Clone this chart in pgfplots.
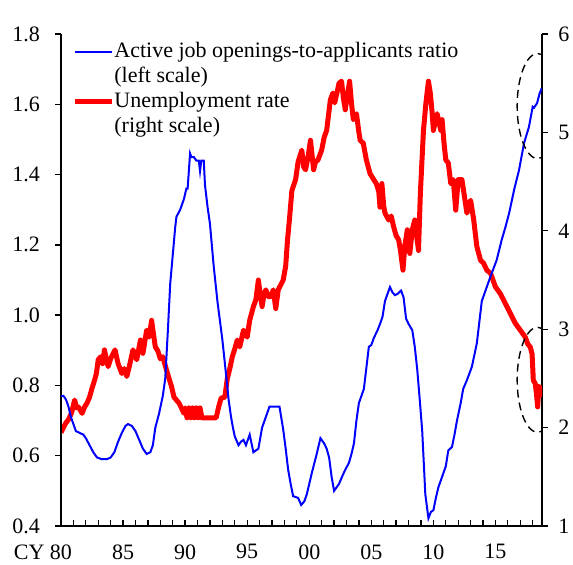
\documentclass[border=0pt]{standalone}
\usepackage{pgfplots}
\pgfplotsset{compat=1.18}
\usepackage{pgfplotstable}
\usepackage{fontspec}
\setmainfont{Liberation Serif}
\usetikzlibrary{shapes.geometric}

% active job openings-to-applicants ratio (left scale)
\pgfplotstableread{
x y
1980.0 0.77
1980.2 0.77
1980.4 0.76
1980.6 0.74
1980.8 0.71
1981.0 0.69
1981.2 0.67
1981.5 0.665
1981.8 0.66
1982.0 0.65
1982.3 0.63
1982.6 0.61
1982.9 0.595
1983.3 0.59
1983.7 0.59
1984.0 0.595
1984.3 0.61
1984.6 0.64
1984.9 0.665
1985.2 0.685
1985.4 0.69
1985.7 0.685
1986.0 0.67
1986.3 0.645
1986.6 0.62
1986.9 0.605
1987.2 0.61
1987.4 0.63
1987.6 0.68
1987.9 0.72
1988.2 0.77
1988.4 0.82
1988.6 0.95
1988.8 1.09
1989.0 1.17
1989.2 1.25
1989.3 1.28
1989.6 1.30
1989.9 1.33
1990.1 1.36
1990.2 1.36
1990.4 1.46
1990.5 1.45
1990.7 1.45
1990.9 1.44
1991.1 1.44
1991.2 1.41
1991.3 1.44
1991.5 1.44
1991.6 1.37
1991.8 1.31
1992.0 1.26
1992.3 1.14
1992.6 1.04
1993.0 0.93
1993.3 0.83
1993.5 0.76
1993.7 0.71
1993.85 0.68
1994.0 0.655
1994.3 0.63
1994.5 0.64
1994.7 0.645
1994.9 0.63
1995.2 0.66
1995.5 0.61
1995.9 0.62
1996.2 0.68
1996.4 0.70
1996.6 0.72
1996.8 0.74
1997.6 0.74
1997.9 0.675
1998.1 0.62
1998.3 0.56
1998.5 0.52
1998.7 0.485
1999.1 0.48
1999.35 0.46
1999.6 0.47
1999.8 0.49
2000.0 0.52
2000.2 0.55
2000.6 0.605
2000.9 0.65
2001.2 0.635
2001.4 0.62
2001.6 0.595
2001.8 0.54
2002.0 0.50
2002.4 0.52
2002.7 0.545
2002.9 0.56
2003.2 0.58
2003.4 0.605
2003.6 0.635
2003.8 0.70
2004.0 0.75
2004.2 0.77
2004.4 0.79
2004.6 0.85
2004.8 0.91
2005.0 0.915
2005.2 0.935
2005.5 0.957
2005.7 0.975
2005.9 0.995
2006.1 1.04
2006.3 1.06
2006.5 1.08
2006.7 1.065
2006.9 1.057
2007.1 1.06
2007.4 1.07
2007.6 1.05
2007.8 0.99
2008.0 0.975
2008.3 0.957
2008.5 0.91
2008.7 0.845
2008.9 0.76
2009.1 0.67
2009.35 0.49
2009.6 0.422
2009.8 0.44
2010.0 0.445
2010.2 0.48
2010.4 0.51
2010.7 0.54
2011.0 0.57
2011.2 0.615
2011.5 0.625
2011.7 0.66
2011.9 0.70
2012.2 0.75
2012.4 0.79
2012.7 0.815
2013.1 0.853
2013.5 0.92
2013.7 0.98
2013.9 1.04
2014.3 1.08
2014.6 1.11
2014.9 1.138
2015.1 1.157
2015.5 1.214
2015.8 1.25
2016.1 1.29
2016.5 1.356
2016.9 1.413
2017.3 1.489
2017.7 1.536
2018.0 1.593
2018.1 1.59
2018.35 1.603
2018.55 1.63
2018.72 1.645
}\ratio

% unemployment rate (right scale)
\pgfplotstableread{
x y
1980.0 1.95
1980.2 2.0
1980.4 2.05
1980.6 2.08
1980.85 2.15
1981.1 2.28
1981.25 2.2
1981.4 2.21
1981.7 2.145
1981.9 2.21
1982.1 2.25
1982.3 2.31
1982.5 2.40
1982.7 2.48
1982.85 2.55
1983.0 2.69
1983.2 2.72
1983.35 2.65
1983.5 2.79
1983.65 2.70
1983.8 2.62
1984.0 2.70
1984.2 2.75
1984.35 2.79
1984.6 2.65
1984.9 2.55
1985.1 2.60
1985.3 2.52
1985.5 2.62
1985.8 2.79
1986.0 2.72
1986.1 2.69
1986.4 2.89
1986.6 2.755
1986.9 2.99
1987.1 2.92
1987.3 3.09
1987.45 2.95
1987.6 2.82
1987.8 2.78
1988.0 2.70
1988.2 2.72
1988.5 2.585
1988.7 2.50
1988.9 2.42
1989.1 2.31
1989.3 2.28
1989.5 2.25
1989.7 2.2
1989.9 2.145
1990.0 2.2
1990.15 2.1
1990.3 2.2
1990.45 2.1
1990.6 2.2
1990.75 2.1
1990.9 2.2
1991.05 2.1
1991.2 2.2
1991.35 2.1
1991.5 2.1
1992.0 2.1
1992.5 2.1
1992.7 2.21
1992.9 2.30
1993.2 2.31
1993.4 2.50
1993.6 2.60
1993.8 2.72
1994.0 2.80
1994.2 2.89
1994.4 2.82
1994.7 2.99
1995.0 2.92
1995.2 3.09
1995.5 3.23
1995.7 3.30
1995.8 3.40
1995.9 3.50
1996.0 3.40
1996.2 3.23
1996.35 3.35
1996.5 3.40
1996.7 3.33
1996.9 3.33
1997.1 3.40
1997.3 3.21
1997.5 3.40
1997.7 3.45
1997.9 3.50
1998.1 3.64
1998.25 3.91
1998.4 4.11
1998.6 4.41
1998.9 4.52
1999.1 4.70
1999.4 4.82
1999.55 4.65
1999.7 4.62
1999.9 4.75
2000.1 4.92
2000.35 4.62
2000.5 4.70
2000.7 4.72
2001.0 4.82
2001.2 4.95
2001.4 5.02
2001.7 5.33
2001.9 5.40
2002.05 5.30
2002.4 5.50
2002.6 5.52
2002.75 5.35
2002.9 5.23
2003.1 5.40
2003.25 5.52
2003.4 5.30
2003.55 5.13
2003.8 5.19
2004.0 5.0
2004.1 4.92
2004.35 4.89
2004.6 4.72
2004.9 4.58
2005.2 4.52
2005.4 4.48
2005.6 4.40
2005.7 4.24
2005.85 4.48
2006.0 4.25
2006.1 4.18
2006.4 4.11
2006.6 4.15
2006.8 4.04
2007.0 3.95
2007.2 3.91
2007.35 3.80
2007.55 3.60
2007.7 3.85
2007.9 4.01
2008.1 3.77
2008.3 4.01
2008.5 4.11
2008.65 3.95
2008.8 3.80
2008.95 4.38
2009.2 5.02
2009.4 5.30
2009.6 5.52
2009.75 5.40
2009.9 5.20
2010.0 5.02
2010.3 5.19
2010.6 5.02
2010.7 5.13
2010.85 4.90
2011.0 4.72
2011.2 4.69
2011.4 4.48
2011.6 4.52
2011.8 4.21
2012.0 4.52
2012.3 4.52
2012.5 4.35
2012.7 4.18
2013.0 4.31
2013.25 4.11
2013.5 3.84
2013.8 3.70
2014.05 3.67
2014.3 3.60
2014.6 3.57
2014.8 3.50
2015.0 3.43
2015.4 3.36
2015.8 3.26
2016.2 3.16
2016.6 3.06
2017.0 2.99
2017.4 2.92
2017.6 2.85
2017.8 2.82
2017.95 2.75
2018.05 2.48
2018.2 2.45
2018.3 2.35
2018.4 2.21
2018.5 2.42
2018.6 2.40
2018.7 2.31
}\unemp

\pgfplotsset{
  base/.style={
    scale only axis, width=240.5pt, height=246pt,
    xmin=1980, xmax=2018.75,
    axis line style={line width=1pt},
    tick style={black, line width=0.65pt},
    major tick length=3pt, minor tick length=3pt,
    tick label style={font=\fontsize{11}{13}\selectfont},
    /pgf/number format/assume math mode=true,
  },
}

\begin{document}
\begin{tikzpicture}
% x axis (ticks pointing inward)
\begin{axis}[base,
  axis x line*=bottom, hide y axis,
  ymin=0, ymax=1,
  tick align=inside,
  xtick={1980,1985,...,2015},
  xticklabels={\llap{CY }80,85,90,95,00,05,10,15},
  minor xtick={1981,1982,...,2018},
  xticklabel style={inner sep=0.5pt, yshift=-8.5pt},
]
\end{axis}
% unemployment rate, right scale
\begin{axis}[base,
  axis y line*=right, hide x axis,
  ymin=1, ymax=6, ytick={1,...,6},
  tick align=outside,
  yticklabel style={inner sep=1pt, xshift=4pt},
]
\addplot[red, line width=2.5pt, line join=round] table {\unemp};
\end{axis}
% ratio, left scale
\begin{axis}[base,
  axis y line*=left, hide x axis,
  ymin=0.4, ymax=1.8, ytick={0.4,0.6,...,1.8},
  tick align=outside,
  yticklabel style={xshift=-4pt,
    /pgf/number format/.cd, fixed, fixed zerofill, precision=1},
  legend cell align=left,
  legend style={at={(0.0,1.0)}, anchor=north west, xshift=2.5pt, yshift=-1pt,
    draw=none, fill=none,
    font=\fontsize{11}{13}\selectfont, row sep=1.3pt,
    nodes={inner ysep=1pt, inner xsep=0pt}},
  legend image code/.code={\draw[#1] (0pt,0pt) -- (18.5pt,0pt);},
]
\addplot[blue, line width=1pt] table {\ratio};
\addlegendentry{Active job openings-to-applicants ratio}
\addlegendimage{empty legend}
\addlegendentry{(left scale)}
\addlegendimage{red, line width=2.5pt}
\addlegendentry{Unemployment rate}
\addlegendimage{empty legend}
\addlegendentry{(right scale)}
\node[draw, dash pattern=on 4pt off 2.5pt, line width=0.7pt, ellipse,
  minimum width=20.5pt, minimum height=52.5pt, inner sep=0pt]
  at (axis cs:2018.4,1.595) {};
\node[draw, dash pattern=on 4pt off 2.5pt, line width=0.7pt, ellipse,
  minimum width=20.5pt, minimum height=52.5pt, inner sep=0pt]
  at (axis cs:2018.4,0.816) {};
\node[anchor=south west, inner sep=0pt, font=\fontsize{11}{13}\selectfont]
  at ([xshift=-3pt,yshift=5pt]rel axis cs:0,1) {s.a., ratio};
\node[anchor=south east, inner sep=0pt, font=\fontsize{11}{13}\selectfont]
  at ([xshift=-2pt,yshift=5pt]rel axis cs:1,1) {s.a., \%};
\end{axis}
\path (-30.5pt,-19pt) rectangle (256pt,263pt);
\end{tikzpicture}
\end{document}
